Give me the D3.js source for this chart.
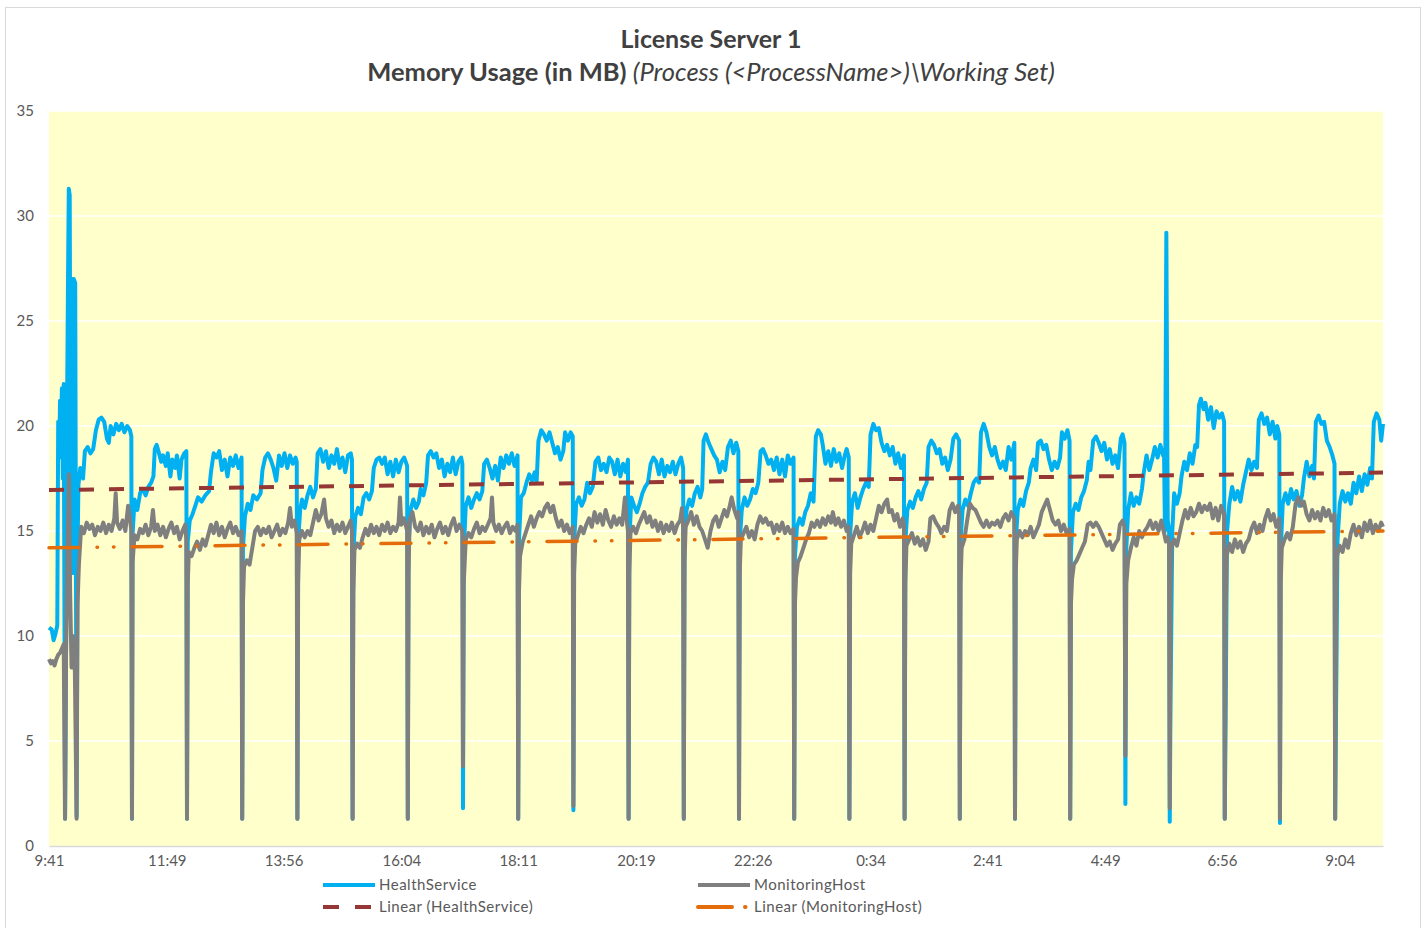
<!DOCTYPE html>
<html>
<head>
<meta charset="utf-8">
<script src="https://cdn.jsdelivr.net/npm/d3@7"></script>
<style>
  html, body { margin: 0; padding: 0; background: #ffffff; }
  svg { display: block; }
  text { font-family: Lato, "Open Sans", sans-serif; }
</style>
</head>
<body>
<svg id="chart" width="1428" height="928"></svg>
<script>
// ---- DATA (minutes after 9:41, MB) ----
const titleText = "License Server 1";
const subtitleBold = "Memory Usage (in MB) ";
const subtitleItalic = "(Process (<ProcessName>)\\Working Set)";

const yTicks = [0, 5, 10, 15, 20, 25, 30, 35];
const xTickMinutes = [0, 128, 255, 383, 510, 638, 765, 893, 1020, 1148, 1275, 1403];
const xTickLabels = ["9:41", "11:49", "13:56", "16:04", "18:11", "20:19", "22:26", "0:34", "2:41", "4:49", "6:56", "9:04"];
const seriesNames = ["HealthService", "MonitoringHost", "Linear (HealthService)", "Linear (MonitoringHost)"];

const healthService = [
[0,10.4],[3,10.3],[5,9.8],[7,10.1],[9,10.5],[10,20.2],[11,18.5],[12,21.2],[13,19.5],[14,21.8],[15,17.5],[16,22],[17.5,1.3],[18.5,9],[19.5,20],[20.5,26],[21.5,31.3],[22.5,31],[23.5,16],[25,27],[26,13],[27,27],[28.5,26.8],[30,1.4],[31,14],[32,17.2],[34,18],[37,17.5],[39,18.8],[42,19],[45,18.7],[48,18.9],[51,19.8],[54,20.3],[57,20.4],[60,20.2],[63,19.4],[65,19.2],[67,20],[70,19.6],[73,20.1],[76,19.8],[79,20.1],[82,19.7],[85,20],[88,19.8],[89.5,19.5],
[90.2,1.3],[90.8,14.8],[93,16.5],[96,16.0],[99,16.8],[102,17.0],[105,16.7],[108,17.1],[111,17.3],[113.5,17.6],[115,18.9],[117,19.1],[119,18.8],[122,18.3],[124,18.6],[127,18.1],[129,18.7],[132,17.6],[134,18.4],[137,18.0],[139,18.6],[142,17.5],[144,18.4],[147,18.7],[149.3,18.8],
[150,1.3],[150.8,14.5],[153,15.5],[156,15.8],[159,16.2],[162,16.6],[166,16.4],[170,16.7],[174,16.9],[176,17.8],[179,18.7],[182,18.5],[185,18.8],[188,17.9],[191,18.4],[194,17.6],[197,18.5],[200,18.1],[203,18.6],[206,18.0],[209.3,18.5],
[210,1.3],[210.8,14.2],[213,15.7],[216,16.3],[219,16.0],[222,16.7],[226,16.5],[230,16.8],[232,17.9],[235,18.5],[238,18.7],[241,18.4],[244,18.0],[247,17.4],[250,18.6],[253,18.1],[256,18.7],[259,18.0],[262,18.6],[265,18.2],[268,18.5],[269.3,18.3],
[270,1.3],[270.8,14.5],[273,16.0],[275,16.5],[278,16.1],[281,16.7],[284,17.1],[287,16.6],[290,17.0],[292,18.7],[295,18.9],[298,18.3],[301,18.8],[304,18.0],[307,18.6],[310,18.2],[313,18.9],[316,18.0],[319,18.5],[322,17.8],[325,18.6],[328,18.7],[329.3,18.4],
[330,1.3],[330.8,14.0],[333,15.7],[336,16.1],[339,15.8],[342,16.6],[345,16.8],[348,16.5],[351,16.9],[353,18.0],[356,18.4],[359,18.5],[362,18.2],[365,18.5],[368,17.7],[371,18.3],[374,17.6],[377,18.4],[380,17.8],[383,18.3],[386,18.5],[389.3,18.1],
[390,1.3],[390.8,14.3],[393,16.0],[396,16.5],[399,16.1],[402,16.4],[404,17.0],[407,16.7],[410,17.3],[412,18.6],[415,18.8],[418,18.5],[421,18.7],[424,18.0],[427,18.4],[430,17.6],[433,18.2],[436,17.8],[439,18.5],[442,17.7],[445,18.3],[448,18.5],[449.3,18.2],
[450,1.8],[450.8,14.0],[453,16.2],[456,16.6],[459,16.1],[462,16.5],[465,16.8],[468,16.5],[471,16.9],[473,18.2],[476,18.4],[479,18.0],[482,17.5],[485,18.1],[488,17.4],[491,18.5],[494,18.0],[497,18.6],[500,18.2],[503,18.7],[506,18.1],[509.3,18.6],
[510,1.3],[510.8,14.5],[513,16.6],[516,16.8],[519,17.3],[522,17.7],[525,17.4],[528,17.8],[530,17.3],[532,19.3],[535,19.8],[538,19.6],[541,19.3],[544,19.7],[547,19.2],[550,18.7],[553,19.0],[556,18.4],[559,18.8],[561,19.7],[564,19.3],[567,19.7],[569.3,19.5],
[570,1.7],[570.8,14.5],[573,16.3],[576,16.6],[579,16.2],[582,16.5],[585,17.3],[588,16.8],[591,17.1],[594,18.3],[597,18.5],[600,17.9],[603,18.2],[606,17.8],[609,18.5],[612,18.3],[615,17.7],[618,18.4],[621,17.6],[624,18.2],[627,17.8],[629.3,18.4],
[630,1.3],[630.8,14.5],[633,16.6],[636,16.2],[639,15.9],[642,16.3],[645,16.8],[648,17.1],[651,17.3],[654,18.2],[657,18.5],[660,18.3],[663,17.7],[666,18.4],[669,17.6],[672,18.1],[675,17.8],[678,18.3],[681,17.7],[684,18.2],[687,18.5],[689.3,18.0],
[690,1.3],[690.8,14.8],[693,16.0],[696,16.5],[699,16.2],[702,16.8],[705,17.1],[708,16.6],[710,17.0],[711.5,19.3],[714,19.6],[717,19.2],[720,18.9],[723,18.6],[726,18.4],[729,17.8],[732,18.3],[735,17.9],[738,19.0],[741,19.3],[744,18.7],[747,19.2],[749.3,18.8],
[750,1.3],[750.8,14.5],[753,16.0],[756,16.6],[759,16.2],[762,16.5],[765,17.0],[768,16.8],[771,17.3],[773.5,18.8],[776,18.9],[779,18.6],[782,18.2],[785,18.4],[788,17.9],[791,18.5],[794,17.7],[797,18.4],[800,17.6],[803,18.6],[806,18.2],[809.3,18.5],
[810,1.3],[810.8,13.8],[813,15.2],[816,15.6],[819,15.3],[822,15.9],[825,16.2],[828,16.8],[831,16.4],[833.5,19.5],[836,19.8],[839,19.6],[841,19.1],[844,18.2],[847,18.8],[850,18.1],[853,18.9],[856,18.3],[859,18.7],[862,18.0],[865,18.6],[867,18.9],[869.3,18.5],
[870,1.3],[870.8,14.8],[873,16.4],[876,16.8],[879,16.1],[882,16.6],[885,17.0],[888,17.3],[891,17.1],[893,19.6],[896,20.1],[899,19.8],[902,19.9],[905,19.2],[908,18.8],[911,19.1],[914,18.6],[917,19.0],[920,18.2],[923,18.7],[926,18.0],[929.3,18.6],
[930,1.3],[930.8,14.5],[933,16.0],[936,16.4],[939,16.1],[942,16.6],[945,16.9],[948,16.5],[951,17.0],[954,17.3],[956,19.0],[959,19.3],[962,19.1],[965,18.7],[968,18.9],[971,18.2],[974,18.5],[977,17.9],[980,18.4],[983,19.4],[986,19.6],[989.3,19.3],
[990,1.3],[990.8,14.5],[993,16.0],[996,16.5],[999,16.2],[1002,16.8],[1005,17.3],[1008,17.5],[1011,17.3],[1013,19.7],[1016,20.1],[1019,19.7],[1022,19.0],[1025,18.6],[1028,19.0],[1031,18.4],[1034,18.0],[1037,18.3],[1040,17.9],[1043,19.0],[1046,18.4],[1049.3,19.2],
[1050,1.3],[1050.8,14.5],[1053,16.0],[1056,16.5],[1059,16.2],[1062,16.9],[1065,17.3],[1067,18.0],[1070,18.4],[1073,17.9],[1075,19.2],[1078,19.3],[1081,18.9],[1084,19.1],[1087,18.4],[1090,17.9],[1093,18.3],[1096,18.0],[1099,18.5],[1101,19.7],[1104,19.4],[1107,19.8],[1109.3,19.3],
[1110,1.3],[1110.8,14.0],[1113,15.9],[1116,16.3],[1119,16.0],[1122,16.6],[1125,16.9],[1128,17.4],[1130,18.3],[1132,17.9],[1135,19.3],[1138,19.5],[1141,19.2],[1144,18.8],[1147,19.2],[1150,18.4],[1153,18.9],[1156,18.2],[1159,18.6],[1162,18.0],[1165,19.4],[1167,19.6],[1169,19.2],
[1170,2.0],[1170.8,14.0],[1173,16.0],[1176,16.8],[1179,16.2],[1182,16.6],[1185,16.3],[1188,17.0],[1190,17.8],[1193,18.6],[1196,17.9],[1199,18.4],[1202,19.0],[1205,18.5],[1208,19.1],[1211,18.6],[1212,18.7],[1213,15.0],[1214.5,29.2],[1216,15.5],[1217.5,15.0],
[1218.2,1.15],[1219,6.6],[1219.8,10.0],[1221,15.0],[1223,16.8],[1226,16.3],[1229,16.8],[1231,17.6],[1234,18.3],[1237,17.9],[1240,18.7],[1243,18.2],[1246,19.1],[1248,19.0],[1250,21.0],[1252,21.3],[1255,20.8],[1257,21.1],[1260,20.3],[1263,20.9],[1266,19.9],[1269,20.7],[1272,20.4],[1275,20.6],[1277.3,20.2],
[1278,1.3],[1279,6.2],[1279.6,10.0],[1280.5,15.0],[1283,16.3],[1286,17.1],[1289,16.5],[1292,16.9],[1295,16.4],[1298,17.2],[1301,17.8],[1304,18.4],[1307,17.9],[1310,18.3],[1313,18.0],[1315,20.3],[1318,20.6],[1321,20.1],[1324,20.4],[1327,19.6],[1330,20.2],[1333,19.4],[1335,20.0],[1337.3,19.6],
[1338,1.1],[1338.8,14.0],[1341,16.3],[1344,16.8],[1347,16.3],[1350,17.0],[1353,16.5],[1356,16.9],[1359,16.2],[1362,16.7],[1364,17.5],[1367,18.3],[1370,17.6],[1373,18.1],[1375,17.5],[1377,20.2],[1380,20.5],[1383,20.1],[1386,20.2],[1389,19.3],[1392,19.0],[1395,18.6],[1397.3,18.2],
[1398,1.3],[1399,6.6],[1399.6,9.4],[1400.5,14.5],[1403,16.3],[1406,16.9],[1409,16.4],[1412,16.8],[1415,16.3],[1418,17.3],[1421,16.8],[1424,17.6],[1427,16.9],[1430,17.7],[1433,17.2],[1436,18.0],[1438,17.5],[1440,20.2],[1443,20.6],[1446,20.3],[1448,19.3],[1450,20.1]
];

const monitoringHost = [
[0,8.9],[2,8.7],[4,8.8],[6,8.6],[8,8.9],[10,9.1],[12,9.2],[14,9.4],[16,9.6],[17.4,1.3],[18.5,9.0],[20,14],[21.7,17.7],[23,12],[24.5,8.5],[26,10],[28,8.8],[30,1.3],[31,11.5],[32.5,13.4],[35,15.2],[38,14.9],[41,15.4],[44,15.1],[47,15.3],[50,14.8],[53,15.2],[56,15.0],[59,15.4],[62,14.9],[65,15.3],[68,15.0],[71,15.6],[72.5,16.8],[74,15.4],[77,15.1],[80,15.5],[83,15.0],[86,16.2],[88,15.6],[89.5,15.0],
[90.2,1.3],[90.8,13.5],[93,14.8],[96,14.6],[99,15.1],[102,14.9],[105,15.3],[108,14.8],[111,15.2],[113,16.0],[115,15.0],[118,15.3],[121,14.8],[124,15.2],[127,14.7],[130,15.1],[133,15.4],[136,14.9],[139,15.2],[142,14.6],[145,15.0],[148,15.3],[149.3,14.6],
[150,1.3],[150.8,12.5],[152,14.0],[155,13.8],[158,14.2],[161,14.5],[164,14.1],[167,14.6],[170,14.3],[173,14.8],[176,15.3],[179,14.9],[182,15.4],[185,14.8],[188,15.2],[191,14.7],[194,15.1],[197,15.4],[200,14.9],[203,15.2],[206,14.8],[209.3,15.0],
[210,1.3],[210.8,11.5],[212,13.3],[215,13.6],[218,13.4],[221,14.2],[224,15.0],[227,15.2],[230,14.8],[233,15.1],[236,14.9],[239,15.2],[242,14.7],[245,15.0],[248,15.3],[251,14.8],[254,15.1],[257,14.9],[260,15.4],[262,16.1],[264,15.2],[267,15.5],[269.3,14.9],
[270,1.3],[270.8,12.5],[272,14.6],[275,15.0],[278,14.7],[281,15.0],[284,14.8],[287,15.4],[290,16.0],[293,15.5],[296,15.8],[299,16.5],[301,15.6],[304,15.2],[307,15.5],[310,14.9],[313,15.3],[316,15.0],[319,15.4],[322,14.9],[325,15.2],[328,15.5],[329.3,15.0],
[330,1.3],[330.8,12.0],[332,14.1],[335,14.4],[338,14.2],[341,14.7],[344,15.1],[347,14.8],[350,15.3],[353,14.9],[356,15.2],[359,14.8],[362,15.3],[365,15.0],[368,15.4],[371,14.9],[374,15.2],[377,15.0],[380,15.4],[381.5,16.6],[383,15.3],[386,15.6],[389.3,15.0],
[390,1.3],[390.8,13.0],[392,15.5],[395,15.9],[398,15.2],[401,15.0],[404,15.4],[407,14.8],[410,15.2],[413,14.9],[416,15.3],[419,14.7],[422,15.1],[425,15.4],[428,14.9],[431,15.2],[434,14.8],[437,15.3],[440,15.6],[443,15.0],[446,15.3],[449.3,15.0],
[450,3.8],[450.8,12.5],[453,14.6],[456,14.9],[459,14.7],[462,15.1],[465,15.4],[468,14.9],[471,15.2],[474,15.0],[477,15.3],[480,15.6],[481.5,16.6],[483,15.4],[486,15.0],[489,15.3],[492,14.9],[495,15.2],[498,15.4],[501,14.9],[504,15.2],[507,15.0],[509.3,15.3],
[510,1.3],[510.8,12.0],[512,13.8],[515,14.5],[518,14.9],[521,15.3],[524,15.7],[527,15.2],[530,15.6],[533,15.9],[536,15.7],[539,16.1],[542,16.3],[545,15.9],[548,16.2],[551,15.6],[554,15.2],[557,15.5],[560,15.0],[563,15.3],[566,14.9],[569.3,15.2],
[570,1.9],[570.8,13.0],[572,14.4],[575,14.8],[578,15.2],[581,14.9],[584,15.3],[587,15.6],[590,15.2],[593,15.9],[596,15.4],[599,15.8],[602,15.3],[605,16.0],[608,15.5],[611,15.2],[614,15.7],[617,15.3],[620,15.6],[623,15.3],[626,16.6],[628,15.5],[629.3,15.0],
[630,1.3],[630.8,13.0],[632,14.9],[635,15.2],[638,14.9],[641,15.3],[644,15.6],[647,15.9],[650,15.4],[653,15.7],[656,15.2],[659,15.5],[662,15.0],[665,15.4],[668,14.9],[671,15.3],[674,15.0],[677,15.4],[680,14.9],[683,15.3],[686,15.5],[688,16.1],[689.3,15.2],
[690,1.3],[690.8,13.5],[692,15.2],[695,15.5],[698,15.9],[701,15.3],[704,15.7],[707,15.2],[710,15.0],[713,14.6],[716,14.2],[719,15.0],[722,15.5],[725,15.7],[728,15.2],[731,15.6],[734,16.0],[737,15.7],[740,16.2],[742,16.6],[745,16.0],[748,15.6],[749.3,15.9],
[750,1.3],[750.8,13.0],[752,14.6],[755,14.9],[758,15.2],[761,14.7],[764,15.0],[767,14.6],[770,15.3],[773,15.7],[776,15.4],[779,15.6],[782,15.3],[785,15.4],[788,14.9],[791,15.3],[794,15.0],[797,15.4],[800,14.9],[803,15.2],[806,14.9],[809.3,15.1],
[810,1.3],[810.8,11.5],[812,12.8],[814,13.5],[817,13.8],[820,14.2],[823,14.6],[826,14.9],[829,15.4],[832,15.2],[835,15.5],[838,15.2],[841,15.6],[844,15.3],[847,15.7],[850,15.4],[852,15.9],[855,15.3],[858,15.6],[861,15.2],[864,15.5],[867,15.0],[869.3,15.2],
[870,1.3],[870.8,13.0],[872,14.4],[875,14.8],[878,15.2],[881,14.7],[884,15.0],[887,15.4],[890,14.9],[893,15.3],[896,15.0],[899,15.6],[902,16.2],[905,15.9],[908,16.3],[911,16.5],[913,15.9],[916,16.0],[919,15.5],[922,15.8],[925,15.2],[928,15.6],[929.3,15.3],
[930,1.3],[930.8,12.5],[932,14.3],[935,14.6],[938,14.9],[941,14.4],[944,14.7],[947,14.3],[950,14.6],[953,14.1],[956,14.5],[958,15.6],[961,15.7],[964,15.4],[967,15.2],[970,14.9],[973,15.2],[976,15.0],[979,16.0],[982,16.3],[985,15.9],[988,16.2],[989.3,15.8],
[990,1.3],[990.8,12.5],[992,14.2],[995,14.6],[998,15.5],[1001,16.3],[1004,16.1],[1007,16.0],[1010,15.7],[1013,15.4],[1016,15.2],[1019,15.5],[1022,15.2],[1025,15.4],[1028,15.3],[1031,15.5],[1034,15.2],[1037,15.6],[1040,15.8],[1043,15.5],[1046,15.9],[1049.3,15.6],
[1050,1.3],[1050.8,13.0],[1052,14.6],[1055,15.0],[1058,14.7],[1061,15.0],[1064,14.8],[1067,15.2],[1070,14.7],[1073,15.0],[1076,15.3],[1079,15.9],[1082,16.2],[1085,16.5],[1088,16.0],[1091,15.5],[1094,15.3],[1097,15.5],[1100,15.0],[1103,15.3],[1106,14.9],[1109.3,15.1],
[1110,1.3],[1110.8,11.5],[1112,12.7],[1114,13.4],[1117,13.6],[1120,13.9],[1123,14.2],[1126,14.5],[1129,15.3],[1132,15.4],[1135,15.2],[1138,15.4],[1141,15.2],[1144,14.9],[1147,14.6],[1150,14.3],[1153,14.5],[1156,14.1],[1159,14.4],[1162,14.6],[1164,15.3],[1167,15.5],[1169,15.2],
[1170,4.3],[1171,12.5],[1173,13.6],[1176,14.2],[1179,14.7],[1182,14.3],[1185,15.0],[1188,14.7],[1191,15.0],[1194,15.2],[1197,15.5],[1200,15.1],[1203,15.4],[1206,15.0],[1209,15.5],[1212,14.9],[1214,14.5],[1216,14.7],[1217.5,14.4],
[1218.2,1.8],[1219,12.0],[1220,14.2],[1223,14.6],[1226,14.3],[1229,14.9],[1232,15.5],[1235,16.0],[1238,15.6],[1241,16.1],[1244,15.7],[1247,15.9],[1250,16.3],[1253,15.9],[1256,16.2],[1259,16.0],[1262,16.3],[1265,15.6],[1268,16.1],[1271,15.5],[1274,16.2],[1277.3,15.8],
[1278,1.3],[1279,11.0],[1280,13.8],[1283,14.4],[1286,14.0],[1289,14.6],[1292,14.2],[1295,14.5],[1298,14.0],[1301,14.4],[1304,14.6],[1307,15.1],[1310,15.4],[1313,14.9],[1316,15.3],[1319,15.0],[1322,15.6],[1325,16.0],[1328,15.5],[1331,15.8],[1334,15.2],[1337.3,15.6],
[1338,1.3],[1338.8,12.5],[1340,14.2],[1343,14.6],[1346,14.9],[1349,14.6],[1352,15.2],[1355,16.3],[1358,16.6],[1361,16.2],[1364,16.4],[1367,15.8],[1370,15.5],[1373,16.0],[1376,15.6],[1379,15.9],[1382,15.5],[1385,16.1],[1388,15.7],[1391,16.0],[1394,15.5],[1397.3,15.8],
[1398,1.3],[1399,12.0],[1400,13.8],[1403,14.3],[1406,14.0],[1409,14.6],[1412,14.2],[1415,14.9],[1418,15.3],[1421,14.8],[1424,15.2],[1427,14.7],[1430,15.4],[1433,15.0],[1436,15.5],[1439,14.9],[1442,15.3],[1445,15.0],[1448,15.4],[1450,15.2]
];

// linear trend lines (endpoints)
const trendHealthService = [[0, 16.95], [1450, 17.78]];
const trendMonitoringHost = [[0, 14.2], [1450, 15.0]];

// ---- DRAWING ----
const svg = d3.select("#chart");
const plot = { left: 49, right: 1383, top: 111, bottom: 846 };
const colors = { hs: "#00B0F0", mh: "#7F7F7F", hsTrend: "#953735", mhTrend: "#E46C0A" };
const hsTrendDash = "15 15";
const mhTrendDash = "30 18 0.5 16 0.5 18";

// outer border
svg.append("rect").attr("x", 5.5).attr("y", 7.5).attr("width", 1415).attr("height", 930)
  .attr("fill", "#ffffff").attr("stroke", "#D9D9D9").attr("stroke-width", 1);

const x = d3.scaleLinear().domain([0, 1450]).range([plot.left, plot.right]);
const y = d3.scaleLinear().domain([0, 35]).range([plot.bottom, plot.top]);

// plot area background
svg.append("rect").attr("x", plot.left).attr("y", plot.top)
  .attr("width", plot.right - plot.left).attr("height", plot.bottom - plot.top)
  .attr("fill", "#FFFFCC");

// gridlines
svg.append("g").selectAll("line").data(yTicks.filter(d => d > 0)).join("line")
  .attr("x1", plot.left).attr("x2", plot.right)
  .attr("y1", d => y(d)).attr("y2", d => y(d))
  .attr("stroke", "#ffffff").attr("stroke-width", 1.5);

// axes
const yAxis = d3.axisLeft(y).tickValues(yTicks).tickSize(0).tickPadding(15);
const gy = svg.append("g").attr("transform", `translate(${plot.left},0)`).call(yAxis);
gy.select(".domain").remove();
gy.selectAll("text").attr("fill", "#595959").style("font-size", "15px");

const xAxis = d3.axisBottom(x).tickValues(xTickMinutes).tickSize(0).tickPadding(9)
  .tickFormat((d, i) => xTickLabels[i]);
const gx = svg.append("g").attr("transform", `translate(0,${plot.bottom})`).call(xAxis);
gx.select(".domain").attr("stroke", "#D9D9D9").attr("stroke-width", 1.5);
gx.selectAll("text").attr("fill", "#595959").style("font-size", "15px");

const line = d3.line().x(d => x(d[0])).y(d => y(d[1]));

svg.append("path").datum(healthService).attr("d", line)
  .attr("fill", "none").attr("stroke", colors.hs).attr("stroke-width", 4)
  .attr("stroke-linejoin", "round");
svg.append("path").datum(monitoringHost).attr("d", line)
  .attr("fill", "none").attr("stroke", colors.mh).attr("stroke-width", 4)
  .attr("stroke-linejoin", "round");

svg.append("path").datum(trendHealthService).attr("d", line)
  .attr("fill", "none").attr("stroke", colors.hsTrend).attr("stroke-width", 4)
  .attr("stroke-dasharray", hsTrendDash);
svg.append("path").datum(trendMonitoringHost).attr("d", line)
  .attr("fill", "none").attr("stroke", colors.mhTrend).attr("stroke-width", 3.5)
  .attr("stroke-dasharray", mhTrendDash).attr("stroke-linecap", "round");

// titles
svg.append("text").attr("x", 711).attr("y", 48).attr("text-anchor", "middle")
  .attr("fill", "#404040").style("font-size", "25px").style("font-weight", "bold")
  .text(titleText);
const sub = svg.append("text").attr("x", 711).attr("y", 81).attr("text-anchor", "middle")
  .attr("fill", "#404040").style("font-size", "25.5px");
sub.append("tspan").style("font-weight", "bold").text(subtitleBold);
sub.append("tspan").style("font-style", "italic").text(subtitleItalic);

// legend
const legendItems = [
  { name: seriesNames[0], x: 323, y: 885, color: colors.hs, dash: null, cap: "butt" },
  { name: seriesNames[1], x: 698, y: 885, color: colors.mh, dash: null, cap: "butt" },
  { name: seriesNames[2], x: 323, y: 907, color: colors.hsTrend, dash: "16 16", cap: "butt" },
  { name: seriesNames[3], x: 698, y: 907, color: colors.mhTrend, dash: "34 13 0.5 20", cap: "round" }
];
const lg = svg.append("g").selectAll("g").data(legendItems).join("g");
lg.append("line").attr("x1", d => d.x).attr("x2", d => d.x + 52)
  .attr("y1", d => d.y).attr("y2", d => d.y)
  .attr("stroke", d => d.color).attr("stroke-width", 4)
  .attr("stroke-dasharray", d => d.dash).attr("stroke-linecap", d => d.cap);
lg.append("text").attr("x", d => d.x + 56).attr("y", d => d.y).attr("dy", "0.35em")
  .attr("fill", "#595959").style("font-size", "15px").style("letter-spacing", "0.5px")
  .text(d => d.name);
</script>
</body>
</html>
